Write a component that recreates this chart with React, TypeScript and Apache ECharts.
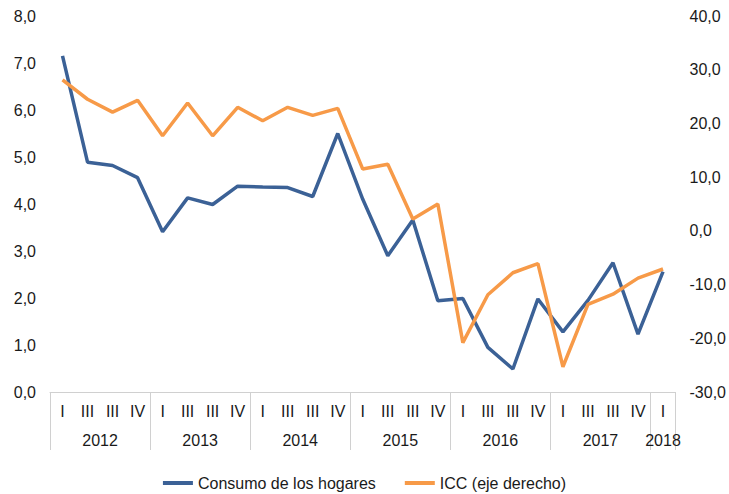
import React, { useEffect, useRef } from "react";
import * as echarts from "echarts";

const years = ["2012", "2013", "2014", "2015", "2016", "2017", "2018"];
const quartersPerYear = [4, 4, 4, 4, 4, 4, 1];
const quarterLabels = ["I", "III", "III", "IV"];

const consumo = [
  7.15, 4.89, 4.82, 4.56, 3.41, 4.13, 3.99, 4.38, 4.36, 4.35, 4.16, 5.5,
  4.1, 2.9, 3.66, 1.94, 1.99, 0.95, 0.49, 1.98, 1.28, 1.95, 2.75, 1.23, 2.56,
];
const icc = [
  28.1, 24.5, 22.1, 24.3, 17.7, 23.8, 17.7, 23.0, 20.5, 23.0, 21.5, 22.8,
  11.5, 12.4, 2.2, 5.0, -20.8, -11.9, -7.8, -6.1, -25.3, -13.7, -11.8, -8.8, -7.1,
];

const leftTicks = { min: 0, max: 8, interval: 1 };
const rightTicks = { min: -30, max: 40, interval: 10 };

const categories: string[] = [];
const yearPositions: Record<string, string> = {};
let start = 0;
years.forEach((y, yi) => {
  const n = quartersPerYear[yi];
  for (let q = 0; q < n; q++) categories.push(quarterLabels[q]);
  yearPositions[String(start + n / 2)] = y;
  start += n;
});

const fmt = (v: number) => v.toFixed(1).replace(".", ",");
const FONT = "Liberation Sans, Arial, sans-serif";
const TEXT = "#1a1a1a";
const GRAYLINE = "#d0d0d0";

export default function App() {
  const ref = useRef<HTMLDivElement>(null);
  useEffect(() => {
    if (!ref.current) return;
    const chart = echarts.init(ref.current, undefined, { renderer: "svg" });
    chart.setOption({
      animation: false,
      textStyle: { fontFamily: FONT },
      grid: { left: 50, right: 52, top: 16, bottom: 102, containLabel: false },
      legend: {
        top: 470,
        left: "center",
        itemWidth: 30,
        itemHeight: 4,
        itemGap: 29,
        icon: "rect",
        textStyle: { fontSize: 16, color: TEXT, fontFamily: FONT },
        data: ["Consumo de los hogares", "ICC (eje derecho)"],
      },
      xAxis: [
        {
          type: "category",
          data: categories,
          boundaryGap: true,
          axisLine: { show: true, lineStyle: { color: GRAYLINE, width: 1 } },
          axisTick: {
            show: true,
            interval: (i: number) => i % 4 === 0,
            length: 58,
            lineStyle: { color: GRAYLINE, width: 1 },
          },
          axisLabel: { interval: 0, fontSize: 16, color: TEXT, margin: 11, fontFamily: FONT },
          splitLine: { show: false },
        },
        {
          type: "value",
          position: "bottom",
          min: 0,
          max: categories.length,
          interval: 0.5,
          axisLine: { show: false },
          axisTick: { show: false },
          splitLine: { show: false },
          axisLabel: {
            fontSize: 16,
            color: TEXT,
            margin: 40,
            fontFamily: FONT,
            showMinLabel: true,
            showMaxLabel: true,
            formatter: (v: number) => yearPositions[String(v)] || "",
          },
        },
      ],
      yAxis: [
        {
          type: "value",
          ...leftTicks,
          axisLine: { show: false },
          axisTick: { show: false },
          splitLine: { show: false },
          axisLabel: { fontSize: 16, color: TEXT, margin: 14, formatter: fmt, fontFamily: FONT },
        },
        {
          type: "value",
          position: "right",
          ...rightTicks,
          axisLine: { show: false },
          axisTick: { show: false },
          splitLine: { show: false },
          axisLabel: { fontSize: 16, color: TEXT, margin: 14, formatter: fmt, fontFamily: FONT },
        },
      ],
      series: [
        {
          name: "Consumo de los hogares",
          type: "line",
          data: consumo,
          xAxisIndex: 0,
          yAxisIndex: 0,
          symbol: "none",
          lineStyle: { color: "#3B6196", width: 3.5 },
          itemStyle: { color: "#3B6196" },
          z: 2,
        },
        {
          name: "ICC (eje derecho)",
          type: "line",
          data: icc,
          xAxisIndex: 0,
          yAxisIndex: 1,
          symbol: "none",
          lineStyle: { color: "#F79A48", width: 3.5 },
          itemStyle: { color: "#F79A48" },
          z: 3,
        },
      ],
    });
    return () => chart.dispose();
  }, []);
  return <div ref={ref} style={{ width: 729, height: 494, position: "absolute", left: 0, top: 0 }} />;
}
